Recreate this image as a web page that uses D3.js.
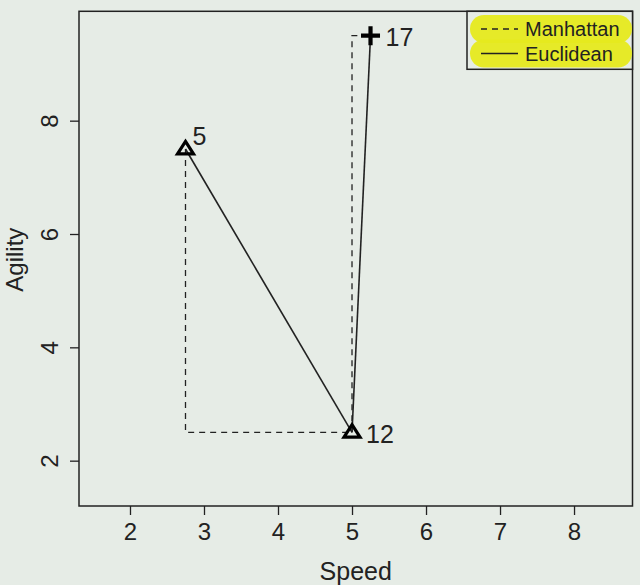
<!DOCTYPE html>
<html><head><meta charset="utf-8">
<script src="https://cdn.jsdelivr.net/npm/d3@7/dist/d3.min.js"></script>
<style>
html,body{margin:0;padding:0;background:#e6ece6;}
svg{display:block;}
text{font-family:"Liberation Sans",Arial,Helvetica,sans-serif;fill:#222;}
</style></head>
<body><svg id="c" width="640" height="585"></svg>
<script>
const pointIds = ["5", "12", "17"];
const speed = [2.75, 5.0, 5.25];
const agility = [7.5, 2.5, 9.5];
const shapes = ["triangle", "triangle", "plus"];
const xTicks = [2, 3, 4, 5, 6, 7, 8];
const yTicks = [2, 4, 6, 8];
const legendLabels = ["Manhattan", "Euclidean"];
// pairs of point indices
const euclidPairs = [[0, 1], [1, 2]];
const manhattanPairs = [[0, 1], [1, 2]];

const svg = d3.select("#c");
const L = 79, R = 632.5, T = 11.3, B = 506;
const x = d3.scaleLinear().domain([1.311, 8.79]).range([L, R]);
const y = d3.scaleLinear().domain([1.2, 9.93]).range([B, T]);
const ink = "#222";

// plot box
svg.append("rect").attr("x", L).attr("y", T).attr("width", R - L).attr("height", B - T)
  .attr("fill", "none").attr("stroke", ink).attr("stroke-width", 1.5);

// x axis
const xa = svg.append("g").attr("transform", `translate(0,${B})`)
  .call(d3.axisBottom(x).tickValues(xTicks).tickSize(9).tickPadding(8).tickFormat(d3.format("d")));
xa.select(".domain").remove();
xa.selectAll("line").attr("stroke", ink).attr("stroke-width", 1.3);
xa.selectAll("text").attr("font-size", 24).attr("fill", ink);

// y axis
const ya = svg.append("g").attr("transform", `translate(${L},0)`)
  .call(d3.axisLeft(y).tickValues(yTicks).tickSize(9).tickPadding(0).tickFormat(d3.format("d")));
ya.select(".domain").remove();
ya.selectAll("line").attr("stroke", ink).attr("stroke-width", 1.3);
ya.selectAll("text").attr("font-size", 24).attr("fill", ink)
  .attr("text-anchor", "middle").attr("dy", null).attr("x", null)
  .attr("transform", "translate(-30,0) rotate(-90)").attr("dominant-baseline", "central");

// axis titles
svg.append("text").attr("x", (L + R) / 2).attr("y", 580).attr("text-anchor", "middle")
  .attr("font-size", 25).text("Speed");
svg.append("text").attr("transform", `translate(23,${(T + B) / 2 + 1}) rotate(-90)`)
  .attr("text-anchor", "middle").attr("font-size", 24).text("Agility");

// Manhattan paths (dashed)
const g = svg.append("g");
manhattanPairs.forEach(([a, b]) => {
  const pts = [[speed[a], agility[a]], [speed[a], agility[b]], [speed[b], agility[b]]];
  g.append("path").attr("d", d3.line().x(d => x(d[0])).y(d => y(d[1]))(pts))
    .attr("fill", "none").attr("stroke", ink).attr("stroke-width", 1.3).attr("stroke-dasharray", "6,5");
});
// Euclidean (solid)
euclidPairs.forEach(([a, b]) => {
  g.append("line").attr("x1", x(speed[a])).attr("y1", y(agility[a]))
    .attr("x2", x(speed[b])).attr("y2", y(agility[b]))
    .attr("stroke", ink).attr("stroke-width", 1.6);
});

// markers
pointIds.forEach((id, i) => {
  const cx = x(speed[i]), cy = y(agility[i]);
  if (shapes[i] === "triangle") {
    const s = 8;
    g.append("path").attr("d", `M${cx},${cy - s * 0.95}L${cx + s},${cy + s * 0.6}L${cx - s},${cy + s * 0.6}Z`)
      .attr("fill", "none").attr("stroke", "#000").attr("stroke-width", 3.2).attr("stroke-linejoin", "miter");
  } else {
    const s = 9.5;
    g.append("path").attr("d", `M${cx - s},${cy}H${cx + s}M${cx},${cy - s}V${cy + s}`)
      .attr("stroke", "#000").attr("stroke-width", 4.2);
  }
});

// point labels
const labelOffsets = [[7, -13], [14, 2], [15, 1]];
pointIds.forEach((id, i) => {
  g.append("text").attr("x", x(speed[i]) + labelOffsets[i][0]).attr("y", y(agility[i]) + labelOffsets[i][1])
    .attr("dominant-baseline", "central").attr("font-size", 25).text(id);
});

// legend
const lg = svg.append("g");
const lx = 467, ly = 11.3, lw = R - lx, lh = 58;
lg.append("rect").attr("x", lx).attr("y", ly).attr("width", lw).attr("height", lh)
  .attr("fill", "#e6ece6").attr("stroke", ink).attr("stroke-width", 1.5);
legendLabels.forEach((lab, i) => {
  const cy = 29 + i * 24.5;
  lg.append("rect").attr("x", 470).attr("y", cy - 14).attr("width", 162).attr("height", 28)
    .attr("rx", 14).attr("fill", "#e6ea1e").attr("opacity", 0.95);
});
legendLabels.forEach((lab, i) => {
  const cy = 29 + i * 24.5;
  lg.append("line").attr("x1", 481).attr("x2", 518).attr("y1", cy).attr("y2", cy)
    .attr("stroke", ink).attr("stroke-width", 1.3).attr("stroke-dasharray", i === 0 ? "6,5" : null);
  lg.append("text").attr("x", 525).attr("y", cy).attr("dominant-baseline", "central")
    .attr("font-size", 20).text(lab);
});
</script></body></html>
